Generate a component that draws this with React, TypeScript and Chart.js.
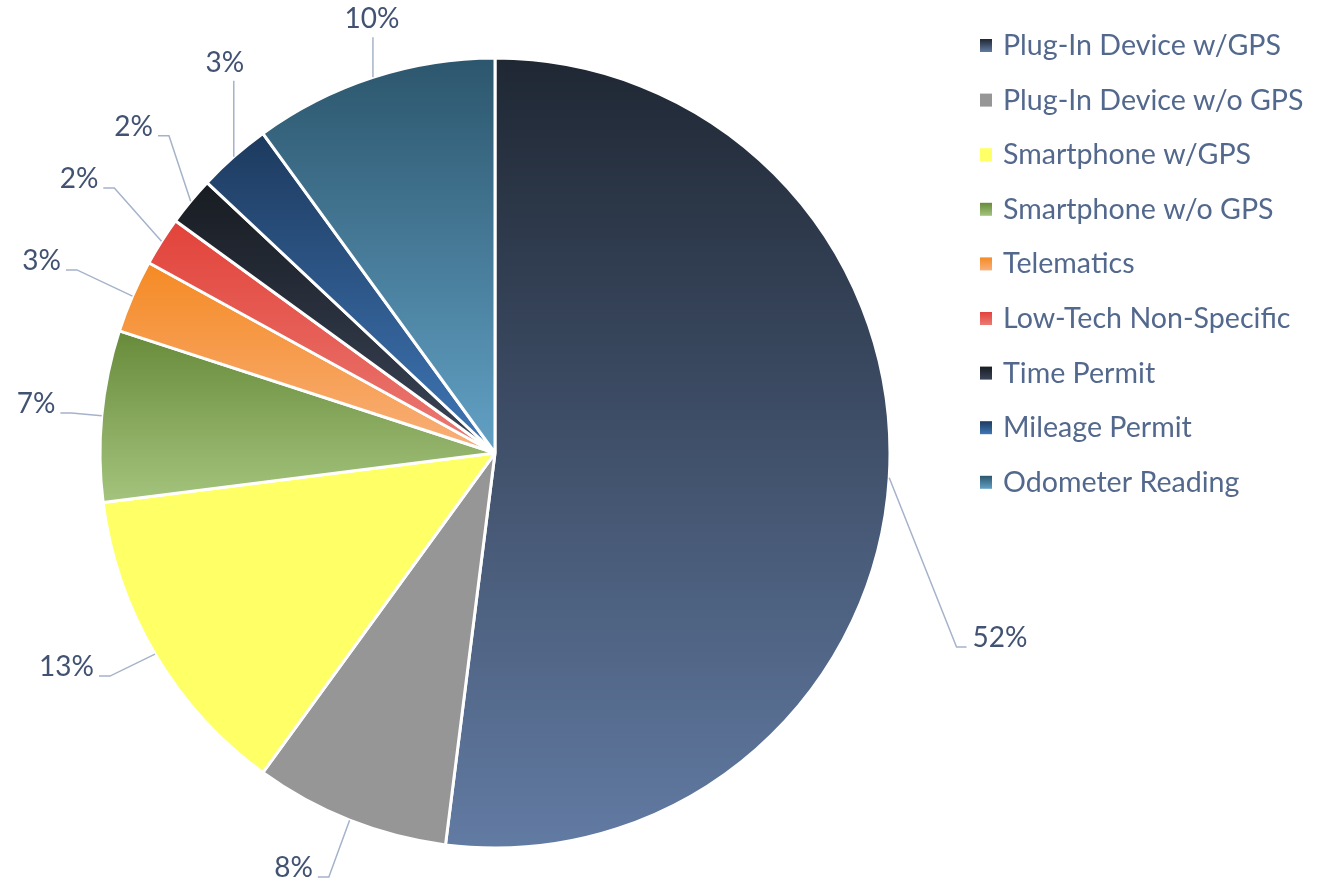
import React, { useEffect, useRef } from 'react';
import { Chart, registerables } from 'chart.js';

Chart.register(...registerables);

// ---- data ----
const categories = [
  'Plug-In Device w/GPS',
  'Plug-In Device w/o GPS',
  'Smartphone w/GPS',
  'Smartphone w/o GPS',
  'Telematics',
  'Low-Tech Non-Specific',
  'Time Permit',
  'Mileage Permit',
  'Odometer Reading',
];
const shares = [52, 8, 13, 7, 3, 2, 2, 3, 10];
const percentLabels = ['52%', '8%', '13%', '7%', '3%', '2%', '2%', '3%', '10%'];

// ---- styles ----
const gradientTop = ['#1f2733', '#969696', '#ffff66', '#678a3a', '#f58a24', '#e2433a', '#181c22', '#1d3a5e', '#2c566d'];
const gradientBottom = ['#627ba3', '#969696', '#ffff66', '#a4c47d', '#f8b07a', '#ea7b74', '#3b4559', '#3f77b7', '#62a1c5'];
// label baseline-centre offsets from the slice's outer mid-point (layout only)
const labelOffsets: [number, number][] = [
  [110.8, 169.2],
  [-56.1, 56.7],
  [-88.5, 22],
  [-65.7, -2.8],
  [-90.9, -26.2],
  [-82.5, -53.3],
  [-57, -65.4],
  [-9, -85],
  [-1, -49],
];

const LABEL_FONT = '28px Lato, "Open Sans", sans-serif';
const LABEL_COLOR = '#415272';
const LEADER_COLOR = '#a5b3ca';
const LEGEND_FONT = '28.6px Lato, "Open Sans", sans-serif';
const LEGEND_COLOR = '#53688d';
const LEGEND_X = 980;
const LEGEND_Y0 = 45.5;
const LEGEND_STEP = 54.6;

function arcBBoxY(x: number, y: number, r: number, sa: number, ea: number) {
  let minY = y, maxY = y;
  const angles = [sa, ea];
  for (let k = -4; k <= 4; k++) {
    const a = Math.PI / 2 + k * Math.PI;
    if (a > sa && a < ea) angles.push(a);
  }
  angles.forEach((a) => {
    const py = y + r * Math.sin(a);
    minY = Math.min(minY, py);
    maxY = Math.max(maxY, py);
  });
  return [minY, maxY];
}

const gradientPlugin = {
  id: 'sliceGradients',
  beforeDatasetsDraw(chart: any) {
    const meta = chart.getDatasetMeta(0);
    const ctx = chart.ctx;
    meta.data.forEach((arc: any, i: number) => {
      const { x, y, startAngle, endAngle, outerRadius } = arc.getProps(
        ['x', 'y', 'startAngle', 'endAngle', 'outerRadius'],
        true
      );
      const [minY, maxY] = arcBBoxY(x, y, outerRadius, startAngle, endAngle);
      const g = ctx.createLinearGradient(0, minY, 0, maxY);
      g.addColorStop(0, gradientTop[i]);
      g.addColorStop(1, gradientBottom[i]);
      arc.options.backgroundColor = g;
    });
  },
};

const labelsPlugin = {
  id: 'outsideLabels',
  afterDatasetsDraw(chart: any) {
    const meta = chart.getDatasetMeta(0);
    const ctx = chart.ctx;
    ctx.save();
    ctx.font = LABEL_FONT;
    meta.data.forEach((arc: any, i: number) => {
      const { x, y, startAngle, endAngle, outerRadius } = arc.getProps(
        ['x', 'y', 'startAngle', 'endAngle', 'outerRadius'],
        true
      );
      const mid = (startAngle + endAngle) / 2;
      const ax = x + outerRadius * Math.cos(mid);
      const ay = y + outerRadius * Math.sin(mid);
      const text = percentLabels[i];
      const w = ctx.measureText(text).width;
      const cx = ax + labelOffsets[i][0];
      const by = ay + labelOffsets[i][1];
      const left = cx - w / 2;
      const right = cx + w / 2;

      ctx.strokeStyle = LEADER_COLOR;
      ctx.lineWidth = 1.5;
      ctx.beginPath();
      if (ax >= left && ax <= right) {
        ctx.moveTo(ax, by + 9);
        ctx.lineTo(ax, ay);
      } else if (ax > right) {
        ctx.moveTo(right + 5, by);
        ctx.lineTo(right + 16, by);
        ctx.lineTo(ax, ay);
      } else {
        ctx.moveTo(left - 6, by);
        ctx.lineTo(left - 16, by);
        ctx.lineTo(ax, ay);
      }
      ctx.stroke();

      ctx.fillStyle = LABEL_COLOR;
      ctx.textAlign = 'center';
      ctx.textBaseline = 'alphabetic';
      ctx.fillText(text, cx, by);
    });
    ctx.restore();
  },
};

const legendPlugin = {
  id: 'sideLegend',
  afterDraw(chart: any) {
    const ctx = chart.ctx;
    ctx.save();
    ctx.font = LEGEND_FONT;
    ctx.textAlign = 'left';
    ctx.textBaseline = 'alphabetic';
    categories.forEach((name, i) => {
      const cy = LEGEND_Y0 + i * LEGEND_STEP;
      const g = ctx.createLinearGradient(0, cy - 6.5, 0, cy + 6.5);
      g.addColorStop(0, gradientTop[i]);
      g.addColorStop(1, gradientBottom[i]);
      ctx.fillStyle = g;
      ctx.fillRect(LEGEND_X, cy - 6.5, 12, 13);
      ctx.fillStyle = LEGEND_COLOR;
      ctx.fillText(name, LEGEND_X + 23, cy + 9.5);
    });
    ctx.restore();
  },
};

export default function App() {
  const canvasRef = useRef<HTMLCanvasElement | null>(null);

  useEffect(() => {
    const canvas = canvasRef.current;
    if (!canvas) return;
    const chart = new Chart(canvas, {
      type: 'pie',
      data: {
        labels: categories,
        datasets: [
          {
            data: shares,
            backgroundColor: gradientTop,
            borderColor: '#ffffff',
            borderWidth: 3,
            radius: 395,
          } as any,
        ],
      },
      options: {
        responsive: false,
        animation: false,
        devicePixelRatio: 1,
        layout: { padding: { left: 0, right: 342, top: 24, bottom: 0 } },
        plugins: {
          legend: { display: false },
          tooltip: { enabled: false },
          title: { display: false },
        },
      },
      plugins: [gradientPlugin, labelsPlugin, legendPlugin],
    });
    return () => chart.destroy();
  }, []);

  return (
    <div style={{ position: 'absolute', left: 0, top: 0, width: 1332, height: 882, background: '#ffffff' }}>
      <canvas ref={canvasRef} width={1332} height={882} />
    </div>
  );
}
